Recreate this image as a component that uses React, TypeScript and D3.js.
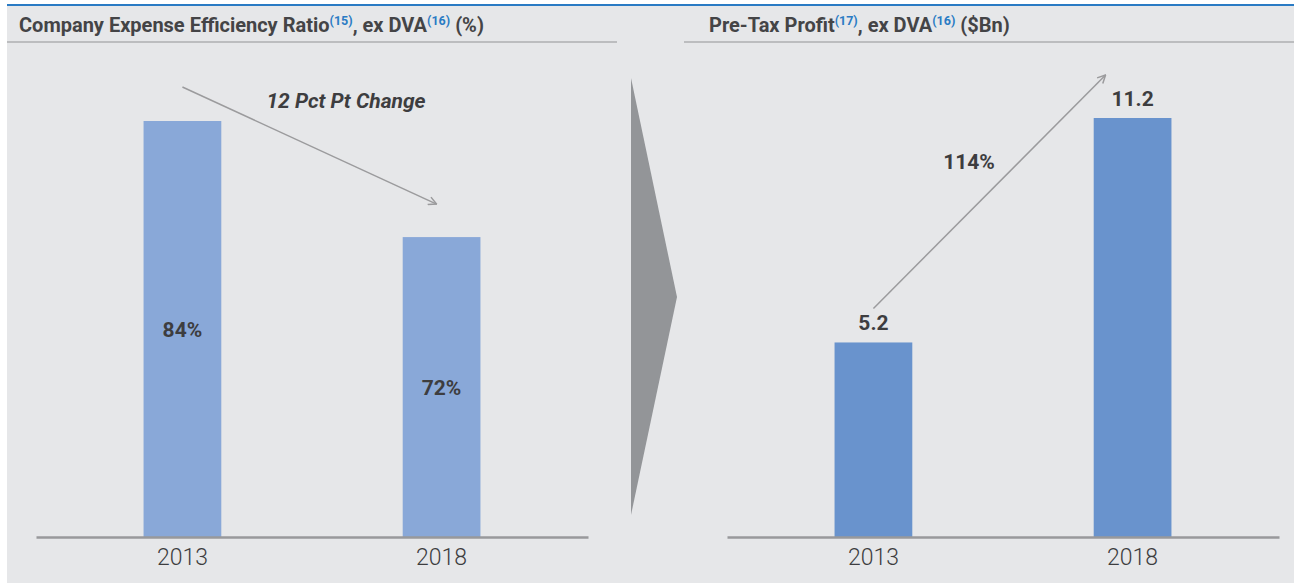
import React, { useEffect, useRef } from 'react';
import * as d3 from 'd3';

// chart data
const years = ['2013', '2018'];
const efficiencyRatio = [84, 72];
const efficiencyLabels = ['84%', '72%'];
const pretaxProfit = [5.2, 11.2];
const profitLabels = ['5.2', '11.2'];
const efficiencyChange = '12 Pct Pt Change';
const profitChange = '114%';
const ratioAxisMin = 41; // left chart axis is truncated

const FONT = '"Roboto", "Noto Sans", sans-serif';
const TEXT = '#3d3d3f';
const BLUE = '#2a7bc4';

const App = () => {
    const ref = useRef<SVGSVGElement | null>(null);

    useEffect(() => {
        if (!ref.current) return;
        const svg = d3.select(ref.current);
        svg.selectAll('*').remove();

        const W = 1294;
        const H = 583;
        const baseline = 537;

        // background panel
        svg.append('rect').attr('width', W).attr('height', H).attr('fill', '#fff');
        svg.append('rect').attr('x', 7).attr('y', 5).attr('width', W - 7).attr('height', H - 5).attr('fill', '#e6e7e9');
        svg.append('rect').attr('x', 7).attr('y', 4).attr('width', W - 7).attr('height', 2).attr('fill', BLUE);
        svg.append('rect').attr('x', 7).attr('y', 41).attr('width', 610).attr('height', 2).attr('fill', '#bcbdbf');
        svg.append('rect').attr('x', 684).attr('y', 41).attr('width', W - 684).attr('height', 2).attr('fill', '#bcbdbf');

        // headers
        const header = (x: number, parts: [string, boolean][]) => {
            const t = svg.append('text')
                .attr('x', x).attr('y', 32)
                .style('font-family', FONT)
                .style('font-size', '20px')
                .style('font-weight', 'bold')
                .attr('fill', '#444446');
            parts.forEach(([s, sup], i) => {
                const ts = t.append('tspan').text(s);
                if (sup) {
                    ts.attr('fill', BLUE).style('font-size', '12.5px').attr('dy', -7);
                } else if (i > 0 && parts[i - 1][1]) {
                    ts.attr('dy', 7);
                }
            });
        };
        header(19, [['Company Expense Efficiency Ratio', false], ['(15)', true], [', ex DVA', false], ['(16)', true], [' (%)', false]]);
        header(709, [['Pre-Tax Profit', false], ['(17)', true], [', ex DVA', false], ['(16)', true], [' ($Bn)', false]]);

        // chevron between the panels
        svg.append('path')
            .attr('d', 'M631,78 L677,297 L631,515 Z')
            .attr('fill', '#939598');

        // arrow marker
        const defs = svg.append('defs');
        defs.append('marker')
            .attr('id', 'open-arrow')
            .attr('viewBox', '0 0 10 10')
            .attr('refX', 9).attr('refY', 5)
            .attr('markerWidth', 10).attr('markerHeight', 10)
            .attr('markerUnits', 'userSpaceOnUse')
            .attr('orient', 'auto')
            .append('path')
            .attr('d', 'M1,1 L9,5 L1,9')
            .attr('fill', 'none')
            .attr('stroke', '#9b9b9d')
            .attr('stroke-width', 1.5);

        const drawPanel = (
            x0: number,
            x1: number,
            values: number[],
            labels: string[],
            y: d3.ScaleLinear<number, number>,
            color: string,
            inside: boolean
        ) => {
            const g = svg.append('g');
            const x = d3.scaleBand<string>()
                .domain(years)
                .range([x0, x1])
                .paddingInner(0.7)
                .paddingOuter(0.415);

            g.selectAll('rect.bar')
                .data(values)
                .enter()
                .append('rect')
                .attr('class', 'bar')
                .attr('x', (_d, i) => x(years[i]) as number)
                .attr('y', d => y(d))
                .attr('width', x.bandwidth())
                .attr('height', d => baseline - y(d))
                .attr('fill', color);

            const axis = g.append('g')
                .attr('transform', `translate(0,${baseline})`)
                .call(d3.axisBottom(x).tickSize(0).tickSizeOuter(0));
            axis.select('.domain').attr('stroke', '#98999b').attr('stroke-width', 2.5);
            axis.selectAll('text')
                .attr('y', 28).attr('dy', 0)
                .style('font-family', FONT)
                .style('font-size', '23px')
                .style('font-weight', 300)
                .attr('fill', TEXT);

            g.selectAll('text.val')
                .data(values)
                .enter()
                .append('text')
                .attr('class', 'val')
                .attr('x', (_d, i) => (x(years[i]) as number) + x.bandwidth() / 2)
                .attr('y', d => inside ? (y(d) + baseline) / 2 + 8 : y(d) - 12)
                .attr('text-anchor', 'middle')
                .style('font-family', FONT)
                .style('font-size', '21px')
                .style('font-weight', 'bold')
                .attr('fill', TEXT)
                .text((_d, i) => labels[i]);

            return x;
        };

        // left: expense efficiency ratio
        const yLeft = d3.scaleLinear().domain([ratioAxisMin, efficiencyRatio[0]]).range([baseline, 121]);
        const xLeft = drawPanel(36, 588, efficiencyRatio, efficiencyLabels, yLeft, '#89a8d8', true);
        const cl = (yr: string) => (xLeft(yr) as number) + xLeft.bandwidth() / 2;
        svg.append('line')
            .attr('x1', cl(years[0])).attr('y1', yLeft(efficiencyRatio[0]) - 34)
            .attr('x2', cl(years[1]) - 5).attr('y2', yLeft(efficiencyRatio[1]) - 33)
            .attr('stroke', '#9b9b9d').attr('stroke-width', 1.5)
            .attr('marker-end', 'url(#open-arrow)');
        svg.append('text')
            .attr('x', 346).attr('y', 108)
            .attr('text-anchor', 'middle')
            .style('font-family', FONT)
            .style('font-size', '21px')
            .style('font-weight', 'bold')
            .style('font-style', 'italic')
            .attr('fill', TEXT)
            .text(efficiencyChange);

        // right: pre-tax profit
        const yRight = d3.scaleLinear().domain([0, pretaxProfit[1]]).range([baseline, 118]);
        const xRight = drawPanel(727, 1279, pretaxProfit, profitLabels, yRight, '#6993cd', false);
        const cr = (yr: string) => (xRight(yr) as number) + xRight.bandwidth() / 2;
        svg.append('line')
            .attr('x1', cr(years[0])).attr('y1', yRight(pretaxProfit[0]) - 34)
            .attr('x2', cr(years[1]) - 27).attr('y2', yRight(pretaxProfit[1]) - 43)
            .attr('stroke', '#9b9b9d').attr('stroke-width', 1.5)
            .attr('marker-end', 'url(#open-arrow)');
        svg.append('text')
            .attr('x', 969).attr('y', 169)
            .attr('text-anchor', 'middle')
            .style('font-family', FONT)
            .style('font-size', '21px')
            .style('font-weight', 'bold')
            .attr('fill', TEXT)
            .text(profitChange);
    }, []);

    return (
        <svg
            ref={ref}
            width={1294}
            height={583}
            style={{ position: 'absolute', left: 0, top: 0, display: 'block' }}
        />
    );
};

export default App;
